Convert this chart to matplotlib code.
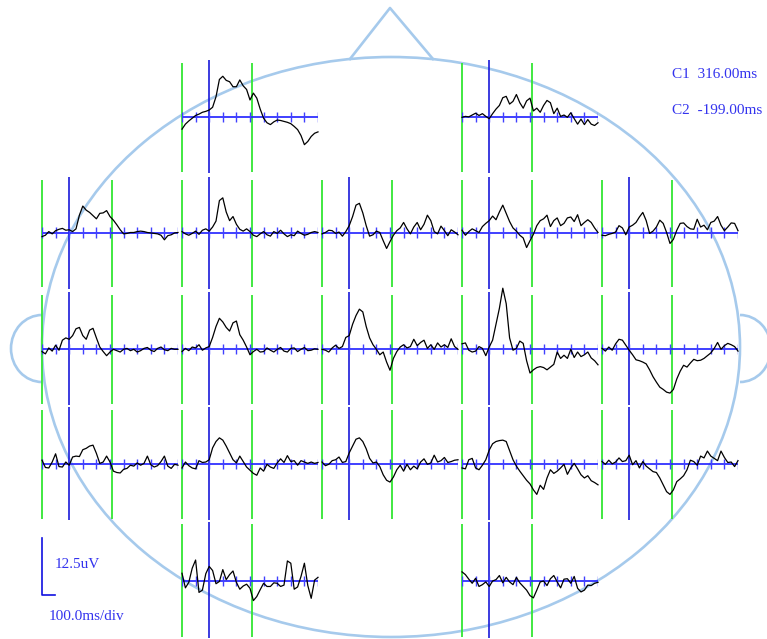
import numpy as np
import matplotlib.pyplot as plt
from matplotlib.patches import Ellipse, Arc

W, H = 767, 639
PX_PER_UV = 4.56
PX_PER_MS = 0.136

# sample times (ms) shared by every channel
times = np.arange(-200, 801, 25)
cursor_c1 = 316.0
cursor_c2 = -199.0
scale_uv = 12.5
scale_ms = 100.0

# averaged waveforms, uV
Fp1 = [-2.6, -1.5, -0.8, -0.2, 0.4, 0.7, 1.1, 1.3, 1.6, 2.2, 4.5, 8.3, 9.0, 8.1, 7.8, 6.7, 6.7, 8.2, 6.9, 6.1, 3.8,
       5.3, 4.2, 1.8, -0.2, -1.2, -1.6, -1.0, -0.6, -0.7, -0.9, -1.1, -1.4, -2.0, -2.7, -4.0, -6.0, -5.3, -4.2, -3.5, -3.2]
Fp2 = [0.0, 0.2, 0.1, 0.5, 0.9, 0.4, 0.8, 0.2, -0.3, 0.8, 1.8, 2.6, 4.3, 4.6, 2.9, 3.5, 5.0, 3.2, 2.0, 3.6, 4.2,
       1.4, 2.0, 1.1, 2.6, 3.7, 3.2, 0.8, 2.0, 0.2, 0.5, 0.0, 1.0, -0.3, -1.5, -0.4, -1.6, -0.5, -1.5, -1.8, -1.2]
F7 = [-0.9, -0.6, 0.2, -0.3, 0.4, 0.7, 0.9, 0.5, 0.6, 0.2, 0.8, 3.8, 5.8, 4.9, 4.4, 3.7, 3.0, 4.2, 4.3, 4.8, 3.5,
      2.7, 1.7, 0.6, -0.3, -0.2, 0.0, 0.0, 0.2, 0.3, 0.2, 0.0, -0.1, -0.2, -0.3, -0.6, -1.6, -0.7, -0.5, -0.1, 0.0]
F3 = [0.2, -0.3, -0.6, -0.2, 0.3, -0.4, 0.5, 0.8, 0.3, 1.2, 2.5, 7.0, 7.6, 4.5, 2.6, 3.5, 1.8, 0.7, 0.3, 0.8, 0.2,
      -0.6, -0.9, -0.3, 0.2, -0.5, -0.8, 0.2, -0.2, 0.5, -0.3, -0.9, -0.5, -0.7, 0.3, -0.2, -0.6, -0.4, 0.0, 0.2, 0.0]
Fz = [-0.3, 0.0, 0.5, 0.4, -0.2, 0.1, -0.8, 0.2, 1.5, 3.5, 6.0, 6.4, 4.3, 1.5, -0.8, -0.5, 0.3, 0.0, -1.8, -3.5, -2.0,
      -0.6, 0.4, 1.0, 2.2, 0.8, -0.3, 1.2, 2.2, 0.6, 1.8, 3.8, 2.6, 0.2, -0.3, 1.4, 0.4, -0.7, 0.6, 0.1, -0.5]
F4 = [0.5, -0.6, 0.2, 0.8, 0.4, 0.0, 1.3, 2.0, 2.6, 3.6, 2.8, 4.5, 6.0, 4.2, 2.4, 1.0, 0.3, -0.6, -1.2, -3.3, -1.8,
      -0.4, 1.5, 2.6, 3.0, 3.8, 1.3, 2.6, 3.2, 1.5, 2.0, 3.2, 3.4, 2.4, 3.9, 1.5, 2.2, 2.8, 2.2, 1.0, 0.0]
F8 = [-0.6, -0.7, -0.4, -0.2, 0.1, 1.5, 1.0, -0.5, 1.2, 1.6, 2.2, 3.4, 4.4, 2.6, -0.2, 0.3, 1.2, 2.7, 2.0, 0.0, -2.4,
      -1.5, 0.5, 2.0, 2.1, 1.3, 0.8, 0.7, 2.9, 1.2, 1.6, 0.6, 2.2, 2.5, 3.5, 1.6, 0.4, 1.2, 2.1, 2.0, 0.4]
T3 = [-0.5, -1.0, 0.3, -0.4, 0.9, -0.2, 2.0, 2.5, 2.2, 3.0, 4.5, 4.8, 3.0, 2.2, 4.2, 4.6, 2.5, 0.5, -0.5, -1.4, -0.6,
      0.0, -0.3, -0.6, 0.0, 0.2, -0.3, 0.0, -0.6, -0.3, 0.2, 0.4, -0.2, -0.5, 0.2, 0.5, -0.1, -0.3, 0.2, 0.0, 0.0]
C3 = [-0.5, 0.2, -0.3, 0.5, 0.3, 1.0, -0.2, 0.3, 0.6, 2.6, 5.0, 6.8, 6.0, 4.8, 4.0, 5.8, 6.2, 3.2, 2.0, 0.5, -1.2,
      -0.5, 0.0, -0.6, -0.5, 0.3, -0.2, -0.6, 0.0, 0.4, -0.4, -0.6, 0.2, 0.3, -0.5, 0.0, 0.4, -0.3, -0.2, 0.1, 0.0]
Cz = [0.0, -0.2, -0.6, 0.3, 0.9, 0.2, 0.6, 2.6, 3.0, 5.5, 7.4, 8.8, 8.2, 5.0, 2.5, 1.0, 0.0, -1.2, -0.6, -2.8, -4.6,
      -2.0, -0.5, 0.5, 1.0, 0.3, 0.6, 2.2, 0.8, 1.5, 2.0, 0.2, 1.0, 0.0, 1.4, 0.5, 1.0, 0.4, 2.3, 0.6, 0.0]
C4 = [1.2, 1.4, -0.2, -0.6, -0.4, 0.6, 0.2, -1.4, 0.5, 2.0, 5.5, 9.0, 13.4, 10.0, 2.5, -0.2, 0.2, 1.8, 1.3, -2.5, -5.2,
      -4.5, -4.0, -3.8, -4.0, -4.5, -3.9, -3.3, -0.6, -2.0, -1.3, -2.0, 0.0, -1.8, -0.6, -1.6, -1.2, -0.6, -1.9, -2.5, -3.4]
T4 = [0.2, -0.4, 0.5, -0.2, 1.2, 2.2, 2.0, 0.9, -0.2, -1.2, -2.3, -2.5, -2.8, -3.2, -4.5, -6.0, -7.2, -8.3, -8.8, -9.4, -9.6,
      -8.8, -6.5, -4.8, -3.5, -3.9, -3.0, -2.2, -2.5, -2.4, -2.0, -1.4, -0.8, 0.2, 1.5, 0.0, 0.8, 1.3, 1.0, 0.6, -0.4]
T5 = [0.9, -0.7, -0.8, 0.5, 2.3, -0.5, -0.6, 0.5, -0.2, 1.6, 1.8, 1.7, 3.2, 3.5, 4.0, 4.2, 2.4, 0.2, 0.5, 1.8, 0.5,
      -1.5, -1.8, -1.9, -1.1, -0.9, -0.2, -0.4, 0.3, -0.2, 0.2, 1.8, -0.1, -0.6, -0.3, 0.6, 1.8, -0.4, -0.9, 0.0, -0.2]
P3 = [-0.8, 0.5, -0.3, -0.8, -1.0, 0.8, 0.4, 0.5, 1.0, 3.6, 5.0, 5.8, 5.3, 4.0, 2.5, 1.0, 0.3, 1.8, 0.6, -0.6, -1.3,
      -2.0, -2.4, -0.8, -1.5, 0.0, -0.6, -0.9, 0.3, 1.2, 0.4, 1.9, 0.6, 0.8, -0.2, 0.8, 0.5, 0.2, 0.5, 0.2, 0.4]
Pz = [0.5, -0.3, 0.0, 0.8, 1.0, 1.6, 0.4, 0.6, 2.5, 4.0, 5.5, 5.8, 5.0, 3.4, 1.3, 0.3, 0.5, -0.5, -2.3, -3.5, -3.9,
      -2.8, -1.2, -0.2, -1.5, 0.0, -1.2, -0.4, -1.0, 0.5, 1.2, 0.0, 0.3, 2.0, 0.5, 0.8, 1.5, 0.4, 0.6, 0.9, 1.0]
P4 = [-0.8, -1.0, 1.0, 1.3, -0.8, -1.2, -0.2, 1.0, 3.1, 4.5, 5.0, 5.2, 5.3, 5.0, 3.0, 1.0, -0.4, -1.5, -2.5, -3.5, -4.3,
      -5.6, -6.6, -4.6, -5.5, -3.0, -1.2, -2.0, -1.5, -0.8, 0.0, -2.2, -0.8, 0.2, -1.0, -2.3, -3.0, -2.5, -3.6, -4.0, -4.5]
T6 = [0.6, 0.0, 0.9, 0.1, 0.5, 1.4, 0.6, 0.8, 2.0, -0.1, 0.8, -0.8, 0.6, -0.4, -1.0, -1.6, -1.8, -3.0, -4.5, -6.0, -6.6,
      -5.6, -3.8, -3.2, -2.5, -1.2, 0.9, 0.6, -0.2, 1.8, 1.4, 2.9, 1.8, 1.3, 0.8, 2.9, 1.5, 0.4, 0.5, -0.5, 0.8]
O1 = [1.7, -1.5, -0.3, 2.8, 4.6, -2.5, -2.0, 1.6, 3.2, 2.3, -0.6, -0.1, 2.5, 0.3, 1.4, 2.2, -0.3, -1.8, -1.1, -0.7, -1.6,
      -4.3, -3.4, -1.9, -0.5, -1.2, -1.2, -0.4, -0.5, -1.2, -0.9, 4.4, 3.9, -1.8, -1.3, 1.0, 3.9, -1.0, -3.8, 0.2, 0.8]
O2 = [2.0, 1.4, 0.4, -0.5, 0.6, -1.2, -0.8, -0.2, -1.2, 0.0, 0.3, 1.2, -0.4, 0.8, -0.2, -0.8, 0.8, -0.4, -1.2, -2.0, -3.2,
      -3.7, -2.0, -0.2, 0.0, -1.0, 0.5, 1.2, -0.2, -1.5, 0.4, 0.5, -0.5, 1.0, -1.6, -2.4, -2.0, -0.9, -1.0, -0.5, -0.3]

channels = {
    'Fp1': Fp1, 'Fp2': Fp2,
    'F7': F7, 'F3': F3, 'Fz': Fz, 'F4': F4, 'F8': F8,
    'T3': T3, 'C3': C3, 'Cz': Cz, 'C4': C4, 'T4': T4,
    'T5': T5, 'P3': P3, 'Pz': Pz, 'P4': P4, 'T6': T6,
    'O1': O1, 'O2': O2,
}

# grid slot (row, col) of each electrode on the head map
slots = {
    'Fp1': (0, 1), 'Fp2': (0, 3),
    'F7': (1, 0), 'F3': (1, 1), 'Fz': (1, 2), 'F4': (1, 3), 'F8': (1, 4),
    'T3': (2, 0), 'C3': (2, 1), 'Cz': (2, 2), 'C4': (2, 3), 'T4': (2, 4),
    'T5': (3, 0), 'P3': (3, 1), 'Pz': (3, 2), 'P4': (3, 3), 'T6': (3, 4),
    'O1': (4, 1), 'O2': (4, 3),
}
col_left = [42, 182, 322, 462, 602]
row_base = [117.3, 232.5, 349.3, 464.3, 581.0]
# extent of the cursor lines above / below the baseline, uV
row_span = [(12.0, -12.0), (11.6, -12.0), (12.0, -12.0), (12.0, -12.0), (12.5, -12.3)]

GREEN = '#33e633'
BLUE_V = '#1a1ad9'
BLUE_AX = '#1f1fff'
TXT = '#3333ee'
HEAD = '#a6caec'

fig = plt.figure(figsize=(W / 100, H / 100), dpi=100)
bg = fig.add_axes([0, 0, 1, 1])
bg.set_xlim(0, W)
bg.set_ylim(H, 0)
bg.axis('off')

# head outline, nose and ears
bg.add_patch(Ellipse((391, 347), 698, 580, fill=False, ec=HEAD, lw=1.9))
bg.plot([350, 390, 433], [59, 8, 59], color=HEAD, lw=1.9)
bg.add_patch(Arc((42, 348.5), 62, 67, theta1=90, theta2=270, ec=HEAD, lw=1.9))
bg.add_patch(Arc((740, 348.5), 62, 67, theta1=-90, theta2=90, ec=HEAD, lw=1.9))

YLIM = 13.0
pw = (times[-1] - times[0]) * PX_PER_MS
ph = 2 * YLIM * PX_PER_UV
for name, vals in channels.items():
    r, c = slots[name]
    x0 = col_left[c]
    base = row_base[r]
    ax = fig.add_axes([x0 / W, (H - base - YLIM * PX_PER_UV) / H, pw / W, ph / H])
    ax.set_xlim(times[0], times[-1])
    ax.set_ylim(-YLIM, YLIM)
    ax.axis('off')
    top, bot = row_span[r]
    ax.vlines([cursor_c2, cursor_c1], bot, top, color=GREEN, lw=1.3, clip_on=False)
    ax.vlines([0], bot - 0.3, top + 0.5, color=BLUE_V, lw=1.2, clip_on=False)
    ax.axhline(0, color=BLUE_AX, lw=1.2)
    ax.vlines(np.arange(times[0], times[-1] + 1, 100), -1.1, 1.1, color='#4040ff', lw=1.0)
    ax.plot(times, vals, color='black', lw=0.9, clip_on=False)

# amplitude / time scale bar
sb = fig.add_axes([41.7 / W, (H - 595) / H, pw / W, ph / H])
sb.set_xlim(0, times[-1] - times[0])
sb.set_ylim(0, 2 * YLIM)
sb.axis('off')
sb.plot([0, 0, scale_ms], [scale_uv, 0, 0], color='#1010e0', lw=1.2, clip_on=False)

font = dict(family='Liberation Serif', size=11, color=TXT)
bg.text(672, 74, 'C1  %.2fms' % cursor_c1, va='center', ha='left', **font)
bg.text(672, 110, 'C2  %.2fms' % cursor_c2, va='center', ha='left', **font)
bg.text(55, 564, '%.1fuV' % scale_uv, va='center', ha='left', **font)
bg.text(49, 616, '%.1fms/div' % scale_ms, va='center', ha='left', **font)

fig.savefig('out.png', dpi=100)
